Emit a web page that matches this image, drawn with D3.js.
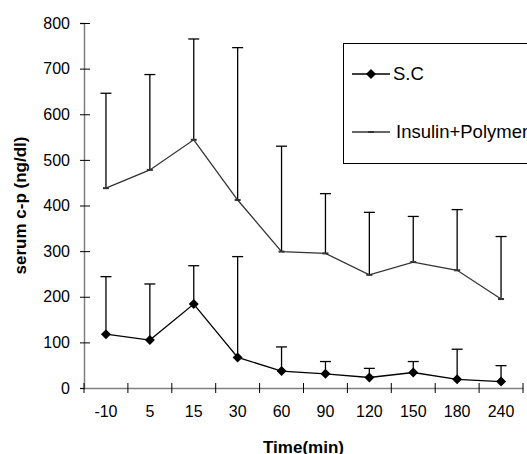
<!DOCTYPE html>
<html lang="en">
<head>
<meta charset="utf-8">
<title>serum c-p over time</title>
<script src="https://d3js.org/d3.v7.min.js"></script>
<style>
	body { margin: 0; background: #fff; overflow: hidden; }
	text { font-family: "Liberation Sans", Arial, sans-serif; fill: #000; }
	.tick text { font-size: 16px; }
	.title { font-size: 17px; font-weight: bold; }
	.legend text { font-size: 18.5px; }
</style>
</head>
<body>
<script>
// data
var times = ["-10", "5", "15", "30", "60", "90", "120", "150", "180", "240"];
var scMean = [118, 105, 184, 67, 37, 31, 23, 34, 19, 14];
var scUpper = [244, 228, 268, 288, 90, 58, 43, 58, 85, 49];
var polyMean = [438, 478, 544, 412, 299, 295, 248, 276, 258, 195];
var polyUpper = [646, 687, 765, 746, 530, 426, 385, 376, 391, 332];
var yTicks = [0, 100, 200, 300, 400, 500, 600, 700, 800];

var width = 527, height = 454;
var plotL = 84, plotR = 523, plotT = 23, plotB = 388;

var svg = d3.select("body").append("svg")
	.attr("width", width)
	.attr("height", height);

var x = d3.scaleBand().domain(times).range([plotL, plotR]).padding(0);
var y = d3.scaleLinear().domain([0, 800]).range([plotB, plotT]);
var cx = function(t) { return x(t) + x.bandwidth() / 2; };

// y axis
var yAxis = svg.append("g")
	.attr("transform", "translate(" + plotL + ",0)")
	.call(d3.axisLeft(y).tickValues(yTicks).tickSize(4).tickPadding(10));
yAxis.select(".domain").attr("stroke", "#808080").attr("stroke-width", 1.5);
yAxis.selectAll(".tick line").attr("x2", 6).attr("x1", -4).attr("stroke", "#000");

// x axis, ticks at band edges
var xEdges = d3.range(times.length + 1).map(function(i) { return plotL + i * x.bandwidth(); });
var xAxis = svg.append("g")
	.attr("transform", "translate(0," + plotB + ")")
	.call(d3.axisBottom(x).tickSize(0).tickPadding(18));
xAxis.select(".domain").attr("stroke", "#808080").attr("stroke-width", 1.5);
xAxis.selectAll(".edge")
	.data(xEdges)
	.enter().append("line")
	.attr("class", "edge")
	.attr("x1", function(d) { return d; })
	.attr("x2", function(d) { return d; })
	.attr("y1", -5)
	.attr("y2", 5)
	.attr("stroke", "#000");

// error bars (upper only)
function errorBars(means, uppers, cls) {
	var g = svg.append("g").attr("class", cls);
	g.selectAll("line.bar")
		.data(times)
		.enter().append("line")
		.attr("class", "bar")
		.attr("x1", cx).attr("x2", cx)
		.attr("y1", function(d, i) { return y(means[i]); })
		.attr("y2", function(d, i) { return y(uppers[i]); })
		.attr("stroke", "#000").attr("stroke-width", 1.3);
	g.selectAll("line.cap")
		.data(times)
		.enter().append("line")
		.attr("class", "cap")
		.attr("x1", function(d) { return cx(d) - 5.5; })
		.attr("x2", function(d) { return cx(d) + 5.5; })
		.attr("y1", function(d, i) { return y(uppers[i]); })
		.attr("y2", function(d, i) { return y(uppers[i]); })
		.attr("stroke", "#000").attr("stroke-width", 1.3);
}
errorBars(polyMean, polyUpper, "poly-err");
errorBars(scMean, scUpper, "sc-err");

var line = d3.line()
	.x(function(d, i) { return cx(times[i]); })
	.y(function(d) { return y(d); });

// Insulin+Polymer series
svg.append("path")
	.datum(polyMean)
	.attr("d", line)
	.attr("fill", "none")
	.attr("stroke", "#333")
	.attr("stroke-width", 1.3);
svg.selectAll("rect.dash")
	.data(polyMean)
	.enter().append("rect")
	.attr("class", "dash")
	.attr("x", function(d, i) { return cx(times[i]) - 3; })
	.attr("y", function(d) { return y(d) - 1; })
	.attr("width", 6).attr("height", 2)
	.attr("fill", "#333");

// S.C series
svg.append("path")
	.datum(scMean)
	.attr("d", line)
	.attr("fill", "none")
	.attr("stroke", "#000")
	.attr("stroke-width", 1.3);
var diamond = d3.symbol().type(d3.symbolSquare).size(50);
svg.selectAll("path.dia")
	.data(scMean)
	.enter().append("path")
	.attr("class", "dia")
	.attr("d", diamond)
	.attr("transform", function(d, i) { return "translate(" + cx(times[i]) + "," + y(d) + ") rotate(45)"; })
	.attr("fill", "#000");

// axis titles
svg.append("text")
	.attr("class", "title")
	.attr("text-anchor", "middle")
	.attr("transform", "translate(26," + ((plotT + plotB) / 2) + ") rotate(-90)")
	.text("serum c-p (ng/dl)");
svg.append("text")
	.attr("class", "title")
	.attr("text-anchor", "middle")
	.attr("x", (plotL + plotR) / 2)
	.attr("y", 453)
	.text("Time(min)");

// legend
var legend = svg.append("g").attr("class", "legend");
legend.append("rect")
	.attr("x", 343.5).attr("y", 43.5)
	.attr("width", 200).attr("height", 120)
	.attr("fill", "#fff").attr("stroke", "#000");
var items = [
	{ name: "S.C", yPos: 74 },
	{ name: "Insulin+Polymer", yPos: 132 }
];
items.forEach(function(it, i) {
	legend.append("line")
		.attr("x1", 352).attr("x2", 390)
		.attr("y1", it.yPos).attr("y2", it.yPos)
		.attr("stroke", i === 0 ? "#000" : "#333").attr("stroke-width", 1.3);
	if (i === 0) {
		legend.append("path")
			.attr("d", diamond)
			.attr("transform", "translate(371," + it.yPos + ") rotate(45)")
			.attr("fill", "#000");
	} else {
		legend.append("rect")
			.attr("x", 368).attr("y", it.yPos - 1)
			.attr("width", 6).attr("height", 2)
			.attr("fill", "#333");
	}
	legend.append("text")
		.attr("x", i === 0 ? 393 : 396)
		.attr("y", it.yPos + 6)
		.text(it.name);
});
</script>
</body>
</html>
